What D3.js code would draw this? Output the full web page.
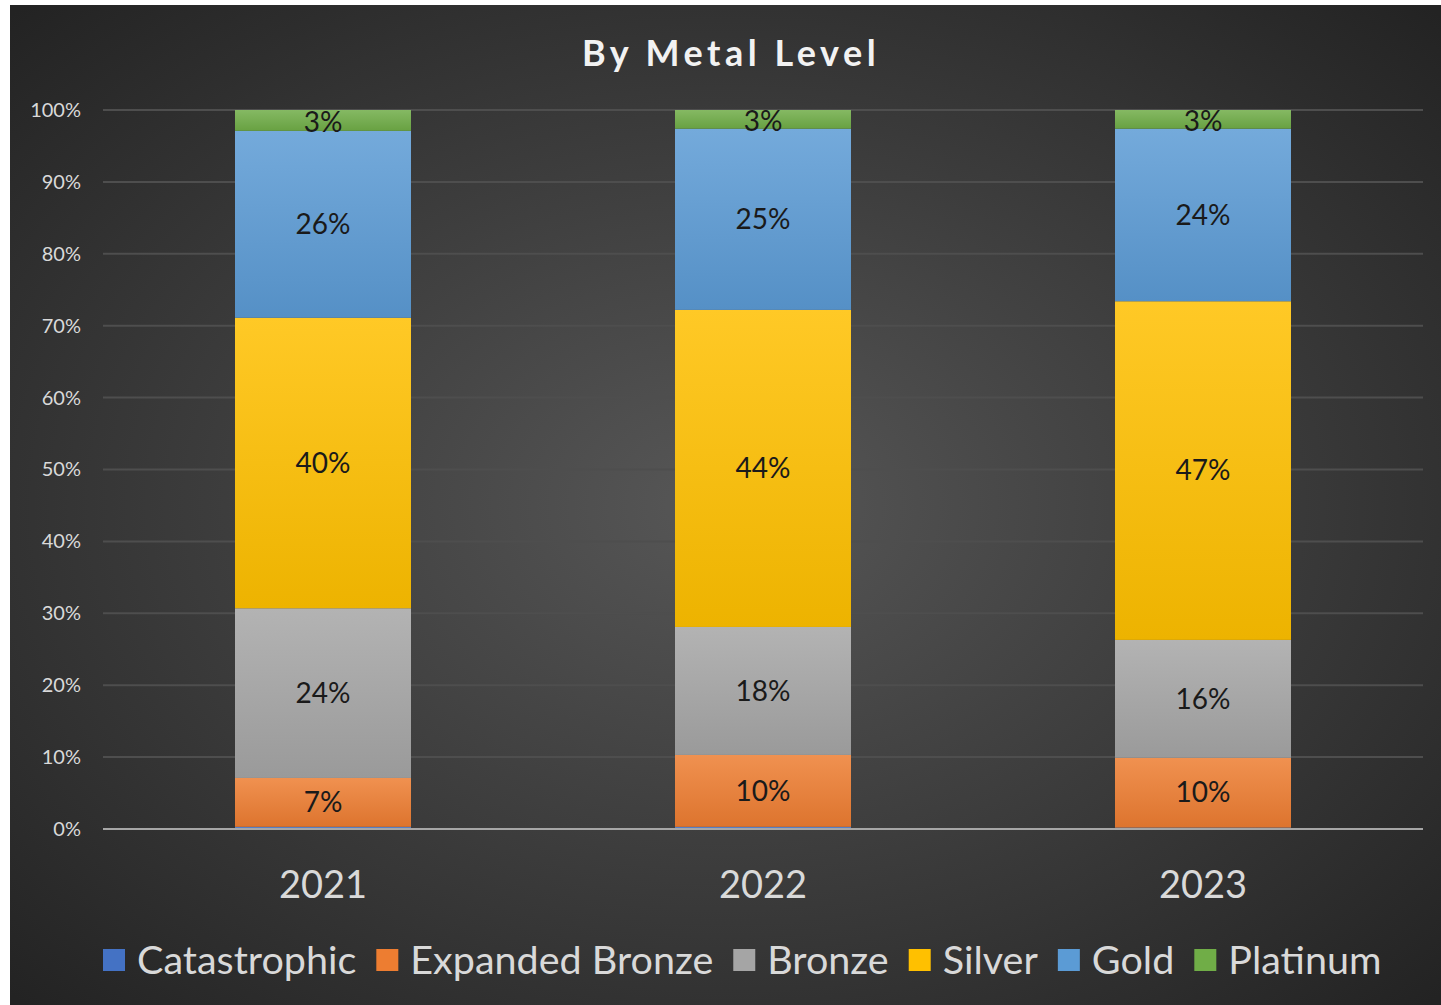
<!DOCTYPE html>
<html>
<head>
<meta charset="utf-8">
<script src="https://cdn.jsdelivr.net/npm/d3@7"></script>
<style>
  body { margin: 0; background: #fff; }
  svg { display: block; }
</style>
</head>
<body>
<script>
// data
var years = ["2021", "2022", "2023"];
var levels = ["Catastrophic", "Expanded Bronze", "Bronze", "Silver", "Gold", "Platinum"];
var catastrophic   = [0.3, 0.3, 0.2];
var expandedBronze = [6.8, 10.0, 9.7];
var bronze         = [23.6, 17.8, 16.4];
var silver         = [40.4, 44.1, 47.1];
var gold           = [26.0, 25.2, 24.0];
var platinum       = [2.9, 2.6, 2.6];
var labels = [
  ["", "7%", "24%", "40%", "26%", "3%"],
  ["", "10%", "18%", "44%", "25%", "3%"],
  ["", "10%", "16%", "47%", "24%", "3%"]
];
var yTicks = [0, 10, 20, 30, 40, 50, 60, 70, 80, 90, 100];

var colors = ["#4472c4", "#ed7d31", "#a5a5a5", "#ffc000", "#5b9bd5", "#70ad47"];
var series = [catastrophic, expandedBronze, bronze, silver, gold, platinum];

var width = 1441, height = 1005;
var font = "Lato, 'Open Sans', sans-serif";

var svg = d3.select("body").append("svg")
    .attr("width", width)
    .attr("height", height);

var defs = svg.append("defs");
var bg = defs.append("radialGradient")
    .attr("id", "bg")
    .attr("cx", "50%").attr("cy", "50%").attr("r", "70%");
bg.append("stop").attr("offset", "0%").attr("stop-color", "#575757");
bg.append("stop").attr("offset", "100%").attr("stop-color", "#232323");

colors.forEach(function(c, i) {
    var g = defs.append("linearGradient")
        .attr("id", "grad" + i)
        .attr("x1", 0).attr("y1", 0).attr("x2", 0).attr("y2", 1);
    g.append("stop").attr("offset", "0%").attr("stop-color", d3.interpolateRgb(c, "#fff")(0.15));
    g.append("stop").attr("offset", "100%").attr("stop-color", d3.color(c).darker(0.2));
});

// chart area (the page has a thin white margin top/left)
svg.append("rect")
    .attr("x", 10).attr("y", 5)
    .attr("width", width - 10).attr("height", height - 5)
    .attr("fill", "url(#bg)");

var x = d3.scaleBand()
    .domain(years)
    .range([103, 1423])
    .paddingInner(0.6)
    .paddingOuter(0.3);

var y = d3.scaleLinear()
    .domain([0, 100])
    .range([829, 110]);

// gridlines
svg.append("g").selectAll("line")
    .data(yTicks.filter(function(t) { return t > 0; }))
    .join("line")
    .attr("x1", 103).attr("x2", 1423)
    .attr("y1", function(d) { return y(d); })
    .attr("y2", function(d) { return y(d); })
    .attr("stroke", "#4e4e4e")
    .attr("stroke-width", 2);

// y axis labels
var yAxis = d3.axisLeft(y)
    .tickValues(yTicks)
    .tickFormat(function(d) { return d + "%"; })
    .tickSize(0)
    .tickPadding(22);
var ya = svg.append("g").attr("transform", "translate(103,0)").call(yAxis);
ya.select(".domain").remove();
ya.selectAll("text")
    .attr("fill", "#d9d9d9")
    .style("font-family", font)
    .style("font-size", "20px");

// stacked data
var rows = years.map(function(yr, i) {
    var r = { year: yr };
    levels.forEach(function(l, j) { r[l] = series[j][i]; });
    return r;
});
var stacked = d3.stack().keys(levels)(rows);

var layer = svg.append("g").selectAll("g")
    .data(stacked)
    .join("g")
    .attr("fill", function(d, i) { return "url(#grad" + i + ")"; });

layer.selectAll("rect")
    .data(function(d) { return d; })
    .join("rect")
    .attr("x", function(d) { return x(d.data.year); })
    .attr("width", x.bandwidth())
    .attr("y", function(d) { return y(d[1]); })
    .attr("height", function(d) { return y(d[0]) - y(d[1]); });

// segment labels
stacked.forEach(function(s, j) {
    svg.append("g").selectAll("text")
        .data(s)
        .join("text")
        .attr("x", function(d) { return x(d.data.year) + x.bandwidth() / 2; })
        .attr("y", function(d) { return (y(d[0]) + y(d[1])) / 2; })
        .attr("dy", j === 5 ? "0.42em" : "0.35em")
        .attr("text-anchor", "middle")
        .attr("fill", "#1a1a1a")
        .style("font-family", font)
        .style("font-size", "28px")
        .text(function(d, i) { return labels[i][j]; });
});

// baseline
svg.append("line")
    .attr("x1", 103).attr("x2", 1423)
    .attr("y1", y(0)).attr("y2", y(0))
    .attr("stroke", "#a6a6a6")
    .attr("stroke-width", 2);

// category labels
var xAxis = d3.axisBottom(x).tickSize(0).tickPadding(0);
var xa = svg.append("g").attr("transform", "translate(0,885)").call(xAxis);
xa.select(".domain").remove();
xa.selectAll("text")
    .attr("dy", "0.35em")
    .attr("fill", "#d9d9d9")
    .style("font-family", font)
    .style("font-size", "38px");

// title
svg.append("text")
    .attr("x", 731).attr("y", 53)
    .attr("dy", "0.35em")
    .attr("text-anchor", "middle")
    .attr("fill", "#f2f2f2")
    .attr("font-weight", "bold")
    .style("font-family", font)
    .style("font-size", "36px")
    .style("letter-spacing", "4.5px")
    .text("By Metal Level");

// legend
var legend = svg.append("g").attr("transform", "translate(0,960)");
var lx = 103;
levels.forEach(function(l, i) {
    var item = legend.append("g").attr("transform", "translate(" + lx + ",0)");
    item.append("rect")
        .attr("x", 0).attr("y", -11)
        .attr("width", 22).attr("height", 22)
        .attr("fill", colors[i]);
    var t = item.append("text")
        .attr("x", 34).attr("dy", "0.35em")
        .attr("fill", "#d9d9d9")
        .style("font-family", font)
        .style("font-size", "39.5px")
        .text(l);
    lx += 34 + t.node().getComputedTextLength() + 20;
});
</script>
</body>
</html>
